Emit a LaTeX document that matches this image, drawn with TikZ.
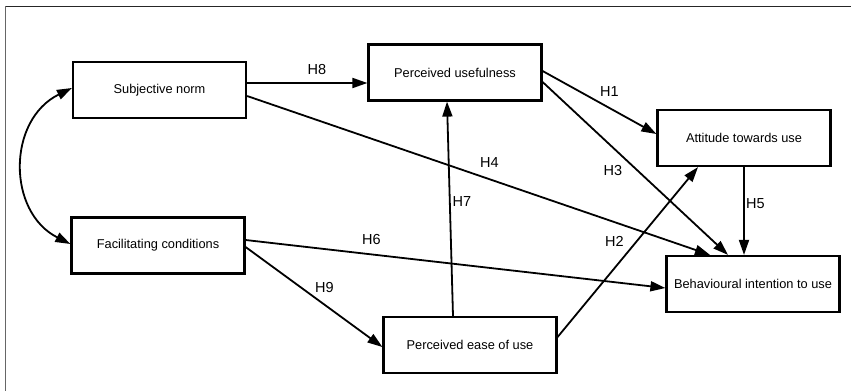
\documentclass[tikz,border=0pt]{standalone}
\usepackage{fontspec}
\setmainfont{Liberation Sans}
\usetikzlibrary{arrows.meta,calc}
\begin{document}
\begin{tikzpicture}[x=1pt,y=-1pt,
  box/.style={draw=black,line width=2.2pt,fill=white,minimum width=173pt,minimum height=56pt,inner sep=0pt,font=\fontsize{12.8}{14}\selectfont},
  link/.style={line width=1.8pt,-{Triangle[length=15pt,width=10pt]}},
  hlab/.style={font=\fontsize{14.5}{16}\selectfont,inner sep=0pt}]
\useasboundingbox (0,0) rectangle (851,391);
\fill[white] (0,0) rectangle (851,391);
% frame
\draw[line width=1.6pt,black!85] (5,6.5) -- (851,6.5);
\draw[line width=1.6pt,black!60] (5.5,6) -- (5.5,391);
% nodes
\node[box] (SN) at (159.5,90) {Subjective norm};
\node[box] (PU) at (455,72.5) {Perceived usefulness};
\node[box] (AT) at (744,138) {Attitude towards use};
\node[box] (FC) at (158,245.5) {Facilitating conditions};
\node[box] (PE) at (470,345) {Perceived ease of use};
\node[box] (BI) at (753,284) {Behavioural intention to use};
% connectors
\draw[link] ($(SN.east)+(0,-7)$) -- ($(PU.west)+(0,10.5)$);
\draw[link] ($(SN.east)+(0,6)$) -- ($(BI.north)+(-43,0)$);
\draw[link] ($(PU.east)+(0,-1.5)$) -- ($(AT.west)+(0,-4)$);
\draw[link] ($(PU.east)+(0,9.5)$) -- ($(BI.north)+(-25,0)$);
\draw[link] (AT.south) -- (AT.south |- BI.north);
\draw[link] ($(PE.north)+(-17,0)$) -- ($(PU.south)+(-8,0)$);
\draw[link] ($(PE.east)+(0,-8)$) -- ($(AT.south)+(-46,0)$);
\draw[link] ($(FC.east)+(0,-5.5)$) -- ($(BI.west)+(0,4)$);
\draw[link] ($(FC.east)+(0,1.5)$) -- ($(PE.west)+(0,2)$);
\draw[line width=1.8pt,{Triangle[length=15pt,width=10pt]}-{Triangle[length=15pt,width=10pt]}]
  ($(SN.west)+(0,-2)$) .. controls (7,120) and (7,212) .. ($(FC.west)+(0,-1.5)$);
% labels
\node[hlab] (L8) at (317,70) {H8};
\node[hlab] (L4) at (489.5,162.5) {H4};
\node[hlab] (L1) at (609.5,92) {H1};
\node[hlab] (L3) at (613,171) {H3};
\node[hlab] (L5) at (755.5,204) {H5};
\node[hlab] (L7) at (462,202) {H7};
\node[hlab] (L2) at (614.5,241) {H2};
\node[hlab] (L6) at (371.5,239.5) {H6};
\node[hlab] (L9) at (324.5,287.5) {H9};
\end{tikzpicture}
\end{document}
